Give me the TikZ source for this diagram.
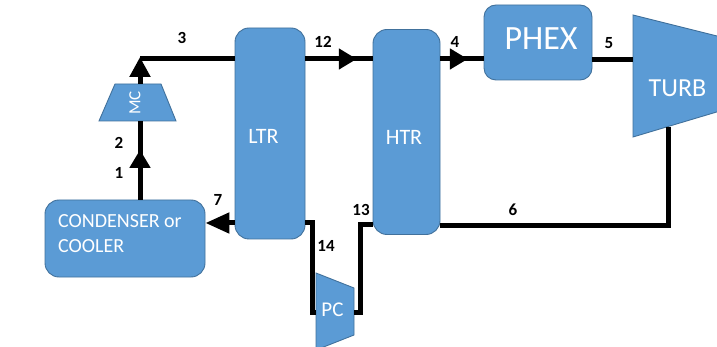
\documentclass[tikz,border=0pt]{standalone}
\usepackage{fontspec}
\setmainfont{Carlito}
\usetikzlibrary{arrows.meta,decorations.markings}
\definecolor{unitfill}{HTML}{5B9BD5}
\definecolor{unitedge}{HTML}{41719C}
\begin{document}
\begin{tikzpicture}[x=1pt,y=-1pt,
  unit/.style={draw=unitedge, fill=unitfill, line width=0.9pt, rounded corners=14pt, inner sep=0pt},
  machine/.style={draw=unitedge, fill=unitfill, line width=0.9pt},
  pipe/.style={line width=5pt, black, line join=miter},
  tip/.style={-{Triangle[length=#1,width=20pt]}},
  tip/.default=19pt,
  midtip/.style={postaction={decorate}, decoration={markings,
      mark=at position #1 with {\arrow{Triangle[length=18pt,width=20pt]}}}},
  num/.style={font=\fontsize{17}{20}\selectfont\bfseries, inner sep=0pt},
  txt/.style={text=white, inner sep=0pt},
]
\useasboundingbox (0,0) rectangle (717,347);
\fill[white] (0,0) rectangle (717,347);
\clip (0,0) rectangle (717,347);

% heat exchangers and cooler
\node[unit, minimum width=160pt, minimum height=77pt] (cond) at (125,238.5) {};
\node[unit, minimum width=70pt, minimum height=211pt] (ltr) at (270,133.5) {};
\node[unit, minimum width=67pt, minimum height=205pt] (htr) at (406.5,132) {};
\node[unit, rounded corners=12pt, minimum width=108pt, minimum height=75pt] (phex) at (538,42.5) {};

\node[txt, anchor=west, align=left, font=\fontsize{20}{25}\selectfont] (condtext) at (58,234) {CONDENSER or\\COOLER};
\node[txt, font=\fontsize{22}{26}\selectfont] (ltrtext) at (263.5,136) {LTR};
\node[txt, font=\fontsize{22}{26}\selectfont] (htrtext) at (404,137) {HTR};
\node[txt, font=\fontsize{34}{40}\selectfont] (phextext) at (541,38.5) {PHEX};

% turbomachines
\draw[machine] (633,15) -- (720,36.75) -- (720,111) -- (633,137) -- cycle;
\draw[machine] (115,84) -- (161,84) -- (176,121) -- (99,121) -- cycle;
\draw[machine] (316,273) -- (354,288) -- (354,335) -- (316,350) -- cycle;
\node[txt, font=\fontsize{26}{30}\selectfont] (turbtext) at (677.5,88.5) {TURB};
\node[txt, font=\fontsize{17}{20}\selectfont, rotate=90] (mctext) at (135,103) {MC};
\node[txt, font=\fontsize{21}{24}\selectfont] (pctext) at (332.5,310) {PC};

% ports
\coordinate (turbIn) at (633,60);
\coordinate (turbOut) at (668,127);
\coordinate (mcIn) at (140,121);
\coordinate (mcOut) at (140,84);
\coordinate (pcIn) at (316,312);
\coordinate (pcOut) at (354,312);
\coordinate (c3tip) at (140,57);
\coordinate (c3) at (140,59);
\coordinate (c14) at (312,312);
\coordinate (c13) at (360,225);

% piping
\draw[pipe, midtip=0.633] (mcIn |- cond.north) -- (mcIn);
\draw[pipe, tip=20pt] (mcOut) -- (c3tip);
\draw[pipe] (c3) -- (ltr.west |- c3);
\draw[pipe, midtip=0.765] (ltr.east |- c3) -- (htr.west |- c3);
\draw[pipe, midtip=0.636] (htr.east |- c3) -- (phex.west |- c3);
\draw[pipe] (phex.east |- turbIn) -- (turbIn);
\draw[pipe] (turbOut) |- (htr.east |- 0,226);
\draw[pipe, tip=24pt] (ltr.west |- 0,223) -- (cond.east |- 0,223);
\draw[pipe] (ltr.east |- 0,223) -| (c14) -- (pcIn);
\draw[pipe] (pcOut) -| (c13) -- (htr.west |- c13);

% state points
\node[num] (n1) at (119,173) {1};
\node[num] (n2) at (119,143) {2};
\node[num] (n3) at (182,38) {3};
\node[num] (n4) at (455,42) {4};
\node[num] (n5) at (609,43) {5};
\node[num] (n6) at (513,210) {6};
\node[num] (n7) at (218,200) {7};
\node[num] (n12) at (323,42) {12};
\node[num] (n13) at (361,210) {13};
\node[num] (n14) at (326,246) {14};
\end{tikzpicture}
\end{document}
